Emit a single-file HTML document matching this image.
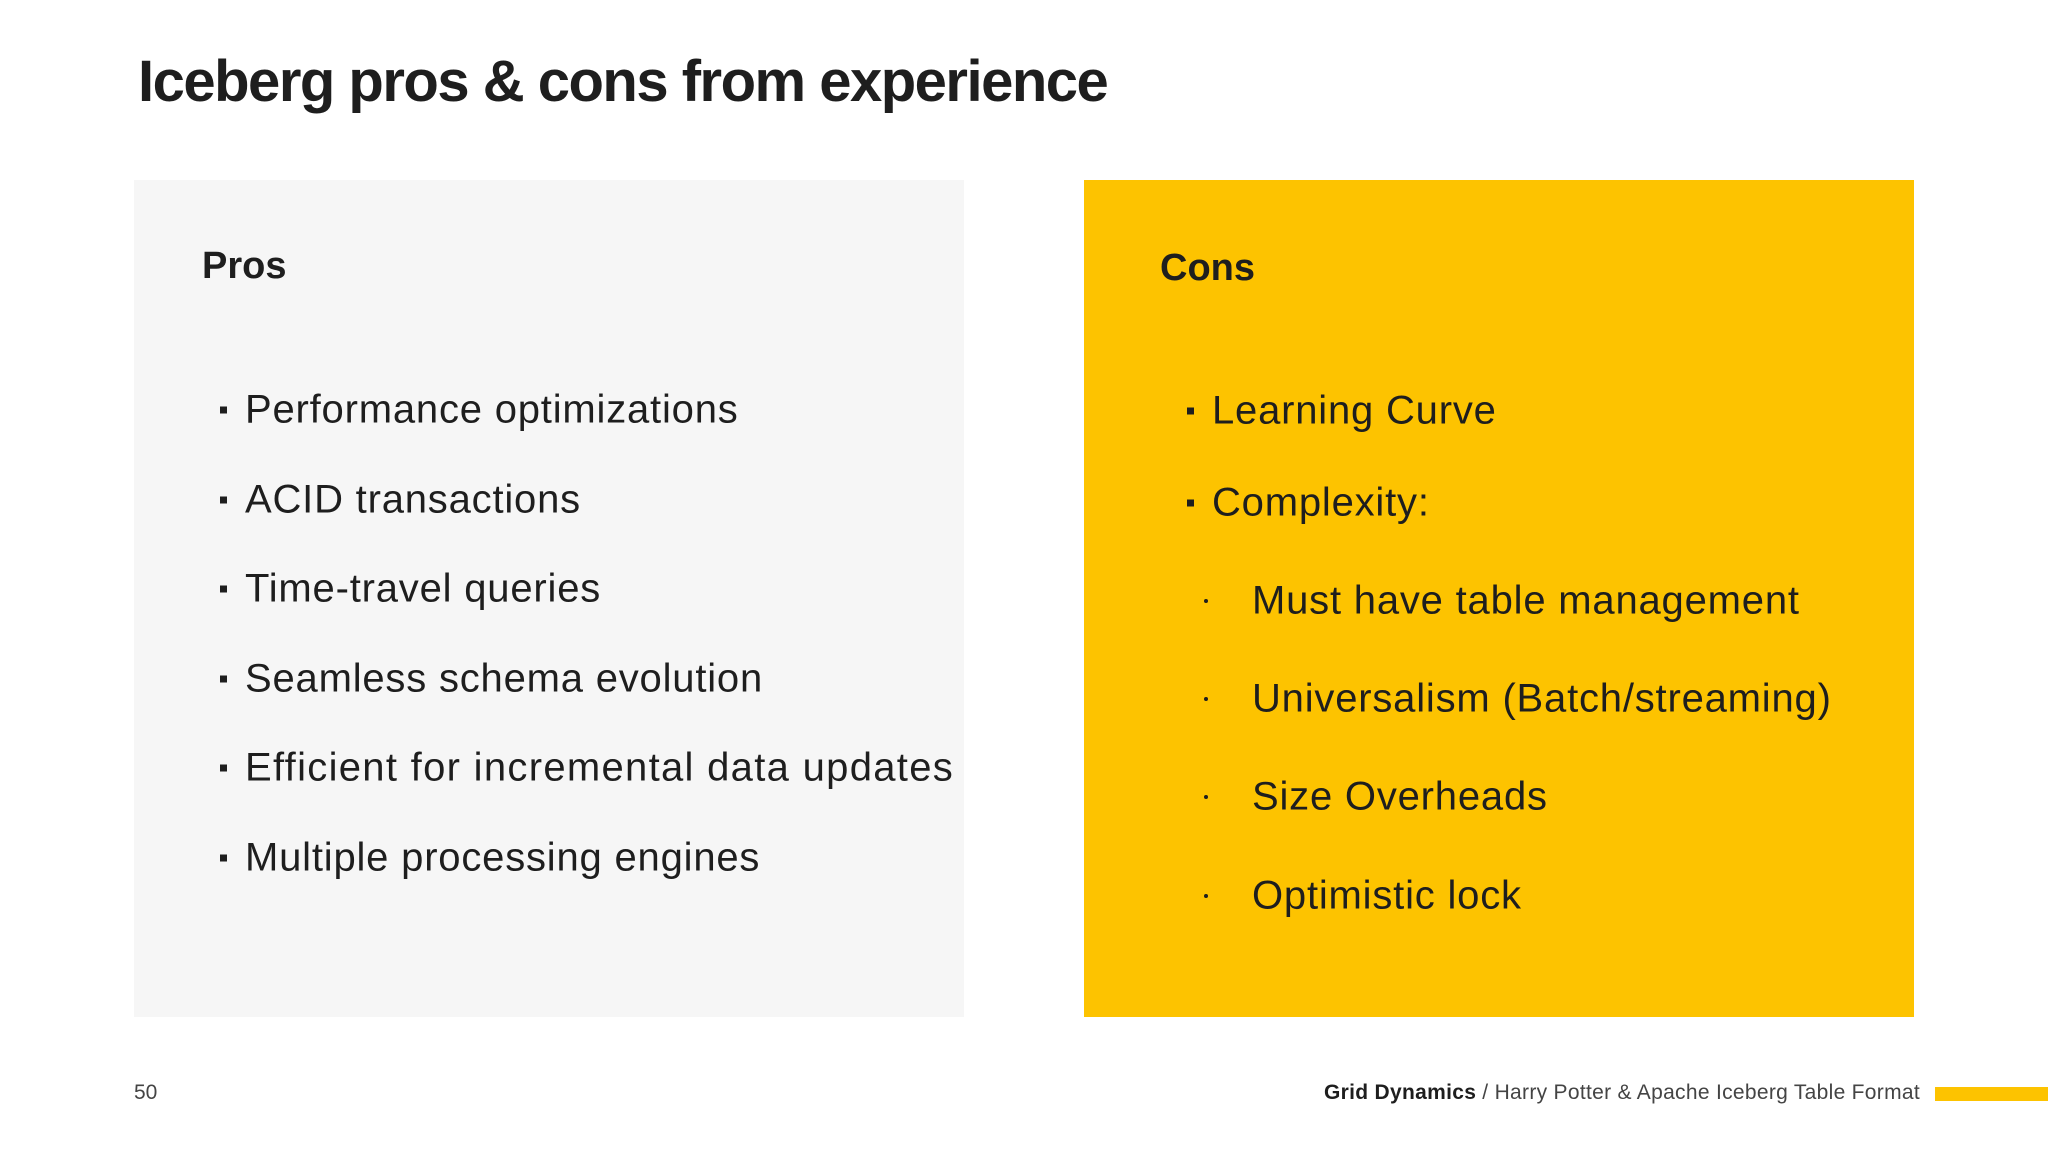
<!DOCTYPE html>
<html><head><meta charset="utf-8"><style>
body{margin:0;width:2048px;height:1152px;background:#fff;position:relative;overflow:hidden;font-family:"Liberation Sans",sans-serif;color:#1e1e1e}
.a{position:absolute;white-space:nowrap}
.t{left:138px;top:48px;font-size:58px;font-weight:bold;letter-spacing:-1.5px}
.box{position:absolute;top:180px;width:830px;height:837px}
.h{font-size:38px;font-weight:bold}
.i{font-size:40px;letter-spacing:0.8px;transform:translateY(-50%)}
.b{position:absolute;width:7px;height:7px;background:#1e1e1e;transform:translateY(-50%)}
.s{position:absolute;width:4px;height:4px;border-radius:2px;background:#1e1e1e;transform:translateY(-50%)}
</style></head><body>
<div class="a t">Iceberg pros &amp; cons from experience</div>
<div class="box" style="left:134px;background:#f6f6f6"></div>
<div class="box" style="left:1084px;width:830px;background:#fdc300"></div>
<div class="a h" style="left:202px;top:245px">Pros</div>
<div class="a h" style="left:1160px;top:247px">Cons</div>

<div class="b" style="left:220px;top:410px"></div><div class="a i" style="left:245px;top:410px">Performance optimizations</div>
<div class="b" style="left:220px;top:500px"></div><div class="a i" style="left:245px;top:500px">ACID transactions</div>
<div class="b" style="left:220px;top:589px"></div><div class="a i" style="left:245px;top:589px">Time-travel queries</div>
<div class="b" style="left:220px;top:679px"></div><div class="a i" style="left:245px;top:679px">Seamless schema evolution</div>
<div class="b" style="left:220px;top:768px"></div><div class="a i" style="left:245px;top:768px;letter-spacing:1.3px">Efficient for incremental data updates</div>
<div class="b" style="left:220px;top:858px"></div><div class="a i" style="left:245px;top:858px">Multiple processing engines</div>

<div class="b" style="left:1187px;top:411px"></div><div class="a i" style="left:1212px;top:411px">Learning Curve</div>
<div class="b" style="left:1187px;top:503px"></div><div class="a i" style="left:1212px;top:503px">Complexity:</div>
<div class="s" style="left:1204px;top:601px"></div><div class="a i" style="left:1252px;top:601px">Must have table management</div>
<div class="s" style="left:1204px;top:699px"></div><div class="a i" style="left:1252px;top:699px">Universalism (Batch/streaming)</div>
<div class="s" style="left:1204px;top:797px"></div><div class="a i" style="left:1252px;top:797px">Size Overheads</div>
<div class="s" style="left:1204px;top:896px"></div><div class="a i" style="left:1252px;top:896px">Optimistic lock</div>

<div class="a" style="left:134px;top:1081px;font-size:21px;color:#444">50</div>
<div class="a" style="right:128px;top:1081px;font-size:21px;color:#444;letter-spacing:0.3px"><b style="color:#1e1e1e">Grid Dynamics</b> / Harry Potter &amp; Apache Iceberg Table Format</div>
<div class="a" style="left:1935px;top:1087px;width:113px;height:14px;background:#fdc300"></div>
</body></html>
